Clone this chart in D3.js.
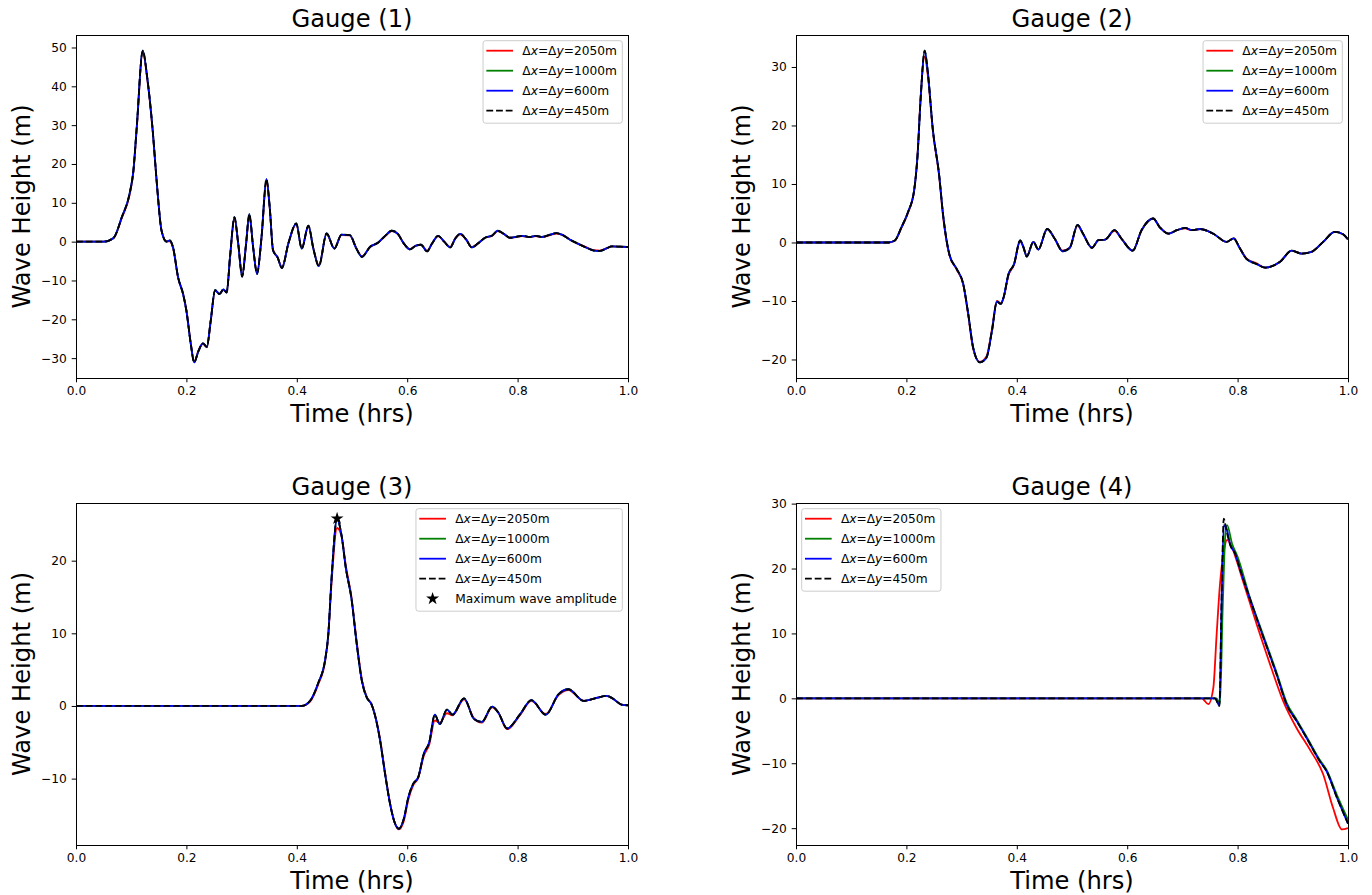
<!DOCTYPE html>
<html>
<head>
<meta charset="utf-8">
<script src="https://cdn.jsdelivr.net/npm/d3@7"></script>
<style>
  body { margin: 0; background: #ffffff; }
  svg { display: block; }
  text { font-family: "DejaVu Sans", sans-serif; fill: #000; }
</style>
</head>
<body>
<svg id="fig" width="1372" height="895"></svg>
<script>
// ---- Gauge (1): time in hours, wave height in metres ----
const g1Time = [0, 0.05, 0.068, 0.083, 0.097, 0.104, 0.11, 0.121, 0.129, 0.139,
  0.147, 0.155, 0.164, 0.170, 0.176, 0.185, 0.194, 0.2, 0.208, 0.214,
  0.222, 0.23, 0.237, 0.244, 0.252, 0.26, 0.267, 0.273, 0.279, 0.287,
  0.294, 0.301, 0.308, 0.314, 0.321, 0.328, 0.336, 0.345, 0.351, 0.357,
  0.365, 0.373, 0.385, 0.399, 0.409, 0.421, 0.43, 0.44, 0.454, 0.468,
  0.481, 0.496, 0.508, 0.518, 0.533, 0.547, 0.56, 0.572, 0.583, 0.594,
  0.605, 0.616, 0.625, 0.636, 0.645, 0.656, 0.667, 0.678, 0.687, 0.696,
  0.707, 0.717, 0.728, 0.741, 0.754, 0.764, 0.775, 0.786, 0.797, 0.808,
  0.822, 0.833, 0.844, 0.859, 0.870, 0.880, 0.895, 0.909, 0.924, 0.938,
  0.949, 0.960, 0.971, 0.986, 1.0];
const g1Fine = [0, 0, 0.95, 6.3, 12.3, 18.3, 29.4, 49.2, 42.3, 28.6,
  14.0, 2.8, 0, 0.3, -1.6, -9.2, -13.5, -17.8, -26.4, -31.1,
  -28.1, -26.2, -27.1, -20.4, -12.5, -13.5, -12.3, -13.1, -4.0, 6.3,
  -0.7, -9.0, -0.7, 7.1, -1.6, -8.3, 1.0, 16.1, 8.8, -2.3,
  -4.0, -6.8, -0.3, 4.7, -1.8, 4.1, -1.8, -6.3, 2.1, -1.8,
  1.8, 1.7, -1.8, -3.9, -1.3, -0.3, 1.5, 2.8, 2.0, -0.5,
  -2.0, -1.0, -0.8, -2.5, -0.5, 1.5, 0.0, -1.5, 0.8, 2.0,
  0.5, -1.5, -0.5, 1.0, 1.6, 2.8, 2.0, 1.0, 1.2, 1.5,
  1.2, 1.5, 1.2, 1.8, 2.2, 1.8, 0.5, -0.5, -1.5, -2.3,
  -2.4, -1.8, -1.2, -1.3, -1.4];
const g1Coarse = [0, 0, 0.9, 6.1, 12.0, 18.0, 29.0, 48.8, 42.0, 28.4,
  14.0, 2.9, 0.1, 0.1, -1.8, -9.4, -13.4, -17.6, -26.2, -30.9,
  -28.0, -26.3, -27.2, -20.6, -12.7, -13.3, -12.5, -13.0, -4.3, 5.9,
  -0.6, -8.7, -0.9, 6.8, -1.5, -8.0, 0.8, 15.4, 8.6, -2.1,
  -4.0, -6.6, -0.4, 4.5, -1.7, 4.0, -1.7, -6.1, 2.0, -1.7,
  1.7, 1.6, -1.7, -3.8, -1.3, -0.3, 1.4, 2.7, 2.0, -0.5,
  -1.9, -1.0, -0.8, -2.4, -0.5, 1.4, 0.0, -1.4, 0.8, 1.9,
  0.5, -1.4, -0.5, 1.0, 1.5, 2.7, 2.0, 1.0, 1.2, 1.4,
  1.2, 1.4, 1.2, 1.7, 2.1, 1.8, 0.5, -0.5, -1.4, -2.2,
  -2.3, -1.8, -1.2, -1.3, -1.4];

// ---- Gauge (2) ----
const g2Time = [0, 0.167, 0.179, 0.191, 0.203, 0.214, 0.22, 0.226, 0.233, 0.239,
  0.248, 0.259, 0.267, 0.278, 0.291, 0.303, 0.312, 0.321, 0.333, 0.345,
  0.355, 0.364, 0.371, 0.376, 0.385, 0.395, 0.406, 0.412, 0.418, 0.43,
  0.439, 0.455, 0.469, 0.483, 0.496, 0.51, 0.52, 0.536, 0.548, 0.56,
  0.577, 0.59, 0.61, 0.626, 0.647, 0.659, 0.675, 0.69, 0.705, 0.717,
  0.732, 0.756, 0.78, 0.793, 0.803, 0.816, 0.835, 0.85, 0.877, 0.898,
  0.916, 0.934, 0.955, 0.976, 0.991, 1.0];
const g2Fine = [0, 0, 0.34, 2.6, 5.2, 8.9, 14.6, 24.9, 32.8, 28.9,
  19.2, 11.8, 4.3, -2.1, -4.5, -7.1, -12.2, -18.0, -20.5, -19.7,
  -15.1, -10.1, -10.5, -9.4, -5.4, -3.7, 0.34, -0.8, -2.4, 0.1,
  -1.2, 2.3, 0.6, -1.5, -0.9, 3.0, 1.5, -0.9, 0.4, 0.5,
  2.1, 0.6, -1.4, 2.1, 4.1, 2.6, 1.5, 2.1, 2.5, 2.1,
  2.3, 1.5, 0.1, 0.7, -0.8, -2.8, -3.7, -4.3, -3.3, -1.4,
  -1.9, -1.6, 0.1, 1.8, 1.4, 0.5];
const g2Coarse = [0, 0, 0.3, 2.5, 5.1, 8.8, 14.8, 25.2, 31.8, 28.4,
  19.0, 11.6, 4.0, -2.2, -4.6, -7.2, -12.4, -18.2, -20.4, -19.5,
  -14.8, -10.0, -10.4, -9.5, -5.6, -3.8, 0.2, -0.8, -2.3, 0.1,
  -1.2, 2.3, 0.6, -1.4, -0.9, 2.9, 1.5, -0.9, 0.4, 0.5,
  2.0, 0.6, -1.4, 2.1, 4.1, 2.6, 1.5, 2.1, 2.4, 2.1,
  2.3, 1.5, 0.1, 0.7, -0.8, -2.7, -3.6, -4.3, -3.3, -1.4,
  -1.9, -1.6, 0.1, 1.8, 1.4, 0.5];

// ---- Gauge (3) ----
const g3Time = [0, 0.409, 0.424, 0.439, 0.451, 0.457, 0.463, 0.473, 0.481, 0.489,
  0.499, 0.508, 0.518, 0.527, 0.535, 0.542, 0.551, 0.56, 0.569, 0.578,
  0.585, 0.594, 0.602, 0.611, 0.62, 0.63, 0.64, 0.65, 0.659, 0.672,
  0.682, 0.703, 0.721, 0.735, 0.754, 0.765, 0.781, 0.804, 0.825, 0.851,
  0.874, 0.892, 0.92, 0.943, 0.961, 0.973, 0.988, 1.0];
const g3Fine = [0, 0, 0.7, 3.2, 6.2, 9.8, 17.6, 25.8, 23.5, 18.9,
  14.8, 8.9, 3.4, 1.1, 0.3, -1.4, -4.8, -9.4, -13.5, -16.2,
  -16.9, -15.5, -12.6, -10.7, -9.8, -6.6, -5.0, -1.2, -2.5, -0.5,
  -1.2, 1.05, -1.8, -2.2, -0.1, -0.9, -3.1, -1.2, 0.8, -1.2,
  1.6, 2.3, 0.7, 1.1, 1.4, 1.0, 0.2, 0.1];
const g3Coarse = [0, 0, 0.6, 3.0, 6.0, 9.6, 17.0, 24.5, 23.4, 19.2,
  15.0, 9.2, 3.6, 1.2, 0.3, -1.3, -4.6, -9.2, -13.4, -16.2,
  -17.0, -15.8, -12.9, -10.9, -9.9, -6.9, -5.3, -2.0, -2.3, -1.0,
  -1.3, 0.9, -1.7, -2.3, -0.2, -0.9, -3.2, -1.3, 0.7, -1.1,
  1.5, 2.2, 0.7, 1.1, 1.4, 1.0, 0.2, 0.1];

// ---- Gauge (4): the runs separate near the front, so each has its own samples ----
const g4Time2050 = [0, 0.735, 0.747, 0.756, 0.762, 0.768, 0.775, 0.781, 0.789, 0.798,
  0.81, 0.835, 0.859, 0.883, 0.907, 0.931, 0.955, 0.973, 0.989, 1.0];
const g4H2050 = [0, 0, -0.9, 1.6, 9.8, 17.5, 22.6, 24.4, 23.4, 21.3,
  18.0, 11.3, 5.2, -0.5, -4.6, -7.9, -11.7, -16.9, -20.2, -20.0];
const g4Time1000 = [0, 0.762, 0.768, 0.773, 0.778, 0.781, 0.79, 0.8, 0.822, 0.847,
  0.871, 0.889, 0.907, 0.925, 0.949, 0.961, 0.98, 1.0];
const g4H1000 = [0, 0, -0.9, 14.0, 25.5, 26.7, 23.8, 21.8, 15.6, 9.6,
  3.9, -0.7, -3.3, -5.9, -9.5, -11.0, -14.9, -18.7];
const g4Time600 = [0, 0.759, 0.767, 0.771, 0.775, 0.779, 0.787, 0.795, 0.804, 0.822,
  0.847, 0.871, 0.889, 0.907, 0.925, 0.949, 0.961, 0.98, 1.0];
const g4H600 = [0, 0, -1.1, 14.9, 26.7, 26.4, 23.6, 22.4, 20.0, 15.4,
  9.3, 3.6, -1.0, -3.5, -6.1, -9.7, -11.2, -15.3, -19.3];
const g4Time450 = [0, 0.759, 0.767, 0.771, 0.775, 0.779, 0.787, 0.795, 0.804, 0.822,
  0.847, 0.871, 0.889, 0.907, 0.925, 0.949, 0.961, 0.98, 1.0];
const g4H450 = [0, 0, -1.2, 15.5, 27.7, 26.2, 23.5, 22.4, 20.0, 15.4,
  9.3, 3.6, -1.0, -3.5, -6.1, -9.7, -11.2, -15.3, -19.3];

// ---- shared labels and ticks ----
const gridSpacings = ["2050", "1000", "600", "450"];
const seriesColors = ["#ff0000", "#008000", "#0000ff", "#000000"];
const timeTicks = [0, 0.2, 0.4, 0.6, 0.8, 1.0];
const g1Ticks = [-30, -20, -10, 0, 10, 20, 30, 40, 50];
const g2Ticks = [-20, -10, 0, 10, 20, 30];
const g3Ticks = [-10, 0, 10, 20];
const g4Ticks = [-20, -10, 0, 10, 20, 30];
const starLabel = "Maximum wave amplitude";

const panels = [
  { title: "Gauge (1)", box: { l: 76, t: 35, r: 628, b: 378 }, yTicks: g1Ticks, legendSide: "right",
    series: [[g1Time, g1Coarse], [g1Time, g1Fine], [g1Time, g1Fine], [g1Time, g1Fine]] },
  { title: "Gauge (2)", box: { l: 796, t: 35, r: 1348, b: 378 }, yTicks: g2Ticks, legendSide: "right",
    series: [[g2Time, g2Coarse], [g2Time, g2Fine], [g2Time, g2Fine], [g2Time, g2Fine]] },
  { title: "Gauge (3)", box: { l: 76, t: 503, r: 628, b: 845 }, yTicks: g3Ticks, legendSide: "right", star: true,
    series: [[g3Time, g3Coarse], [g3Time, g3Fine], [g3Time, g3Fine], [g3Time, g3Fine]] },
  { title: "Gauge (4)", box: { l: 796, t: 503, r: 1348, b: 845 }, yTicks: g4Ticks, legendSide: "left",
    series: [[g4Time2050, g4H2050], [g4Time1000, g4H1000], [g4Time600, g4H600], [g4Time450, g4H450]] }
];

const svg = d3.select("#fig");
const LW = 1.8;
const DASH = "6.8,2.9";
const TICK = 4.3;

function addSpacingLabel(sel, spacing) {
  sel.append("tspan").text("\u0394");
  sel.append("tspan").attr("font-style", "italic").text("x");
  sel.append("tspan").text("=\u0394");
  sel.append("tspan").attr("font-style", "italic").text("y");
  sel.append("tspan").text("=" + spacing + "m");
}

panels.forEach((p, pi) => {
  const b = p.box;
  const data = p.series.map(([ts, vs]) => ts.map((t, i) => ({ t, v: vs[i] })));
  const allV = data.flat().map(d => d.v);
  const lo = d3.min(allV), hi = d3.max(allV);
  const pad = (hi - lo) * 0.05;

  const x = d3.scaleLinear().domain([0, 1]).range([b.l, b.r]);
  const y = d3.scaleLinear().domain([lo - pad, hi + pad]).range([b.b, b.t]);

  const g = svg.append("g");
  const clipId = "clip" + pi;
  svg.append("clipPath").attr("id", clipId)
    .append("rect").attr("x", b.l).attr("y", b.t).attr("width", b.r - b.l).attr("height", b.b - b.t);

  const line = d3.line().x(d => x(d.t)).y(d => y(d.v)).curve(d3.curveMonotoneX);

  const plot = g.append("g").attr("clip-path", `url(#${clipId})`);
  data.forEach((pts, si) => {
    plot.append("path")
      .attr("d", line(pts))
      .attr("fill", "none")
      .attr("stroke", seriesColors[si])
      .attr("stroke-width", LW)
      .attr("stroke-linejoin", "round")
      .attr("stroke-dasharray", si === 3 ? DASH : null);
  });

  // marker at the largest height of the finest run
  if (p.star) {
    const fine = data[3];
    const top = fine.reduce((a, d) => (d.v > a.v ? d : a), fine[0]);
    g.append("path")
      .attr("d", d3.symbol().type(d3.symbolStar).size(52)())
      .attr("transform", `translate(${x(top.t)},${y(top.v)})`)
      .attr("fill", "#000");
  }

  // axes
  const xAxis = d3.axisBottom(x).tickValues(timeTicks).tickFormat(d3.format(".1f"))
    .tickSize(TICK).tickPadding(4.3);
  const yAxis = d3.axisLeft(y).tickValues(p.yTicks).tickFormat(d3.format("d"))
    .tickSize(TICK).tickPadding(5);
  const gx = g.append("g").attr("transform", `translate(0,${b.b})`).call(xAxis);
  const gy = g.append("g").attr("transform", `translate(${b.l},0)`).call(yAxis);
  [gx, gy].forEach(ax => {
    ax.select(".domain").remove();
    ax.selectAll(".tick line").attr("stroke", "#000").attr("stroke-width", 1);
    ax.selectAll(".tick text").attr("font-size", "12.2px").attr("font-family", "DejaVu Sans").attr("fill", "#000");
  });

  g.append("rect")
    .attr("x", b.l).attr("y", b.t).attr("width", b.r - b.l).attr("height", b.b - b.t)
    .attr("fill", "none").attr("stroke", "#000").attr("stroke-width", 1)
    .attr("shape-rendering", "crispEdges");

  const cx = (b.l + b.r) / 2, cy = (b.t + b.b) / 2;
  g.append("text").attr("x", cx).attr("y", b.t - 8).attr("text-anchor", "middle")
    .attr("font-size", "24.2px").text(p.title);
  g.append("text").attr("x", cx).attr("y", b.b + 44).attr("text-anchor", "middle")
    .attr("font-size", "24.2px").text("Time (hrs)");
  g.append("text").attr("transform", `translate(${b.l - 46},${cy}) rotate(-90)`)
    .attr("text-anchor", "middle").attr("font-size", "24.2px").text("Wave Height (m)");

  // legend
  const leg = g.append("g");
  const frame = leg.append("rect");
  const rowH = 20, hx0 = 3.3, hx1 = 30, tx = 39.3;
  const labels = [];
  gridSpacings.forEach((sp, si) => {
    const ry = 10 + rowH * si;
    leg.append("line").attr("x1", hx0).attr("x2", hx1).attr("y1", ry).attr("y2", ry)
      .attr("stroke", seriesColors[si]).attr("stroke-width", LW)
      .attr("stroke-dasharray", si === 3 ? DASH : null);
    const t = leg.append("text").attr("x", tx).attr("y", ry).attr("dy", "0.36em").attr("font-size", "12.2px");
    addSpacingLabel(t, sp);
    labels.push(t);
  });
  let rows = gridSpacings.length;
  if (p.star) {
    const ry = 10 + rowH * rows;
    leg.append("path").attr("d", d3.symbol().type(d3.symbolStar).size(52)())
      .attr("transform", `translate(${(hx0 + hx1) / 2},${ry})`).attr("fill", "#000");
    labels.push(leg.append("text").attr("x", tx).attr("y", ry).attr("dy", "0.36em")
      .attr("font-size", "12.2px").text(starLabel));
    rows += 1;
  }
  const maxLen = d3.max(labels, t => t.node().getComputedTextLength());
  const lw = tx + maxLen + 5.5, lh = rowH * rows + 2.5;
  frame.attr("x", 0).attr("y", 0).attr("width", lw).attr("height", lh)
    .attr("rx", 2.5).attr("fill", "#fff").attr("fill-opacity", 0.8)
    .attr("stroke", "#cccccc").attr("stroke-width", 1);
  const lx = p.legendSide === "right" ? b.r - 5.7 - lw : b.l + 5.7;
  leg.attr("transform", `translate(${lx},${b.t + 5.7})`);
});
</script>
</body>
</html>
